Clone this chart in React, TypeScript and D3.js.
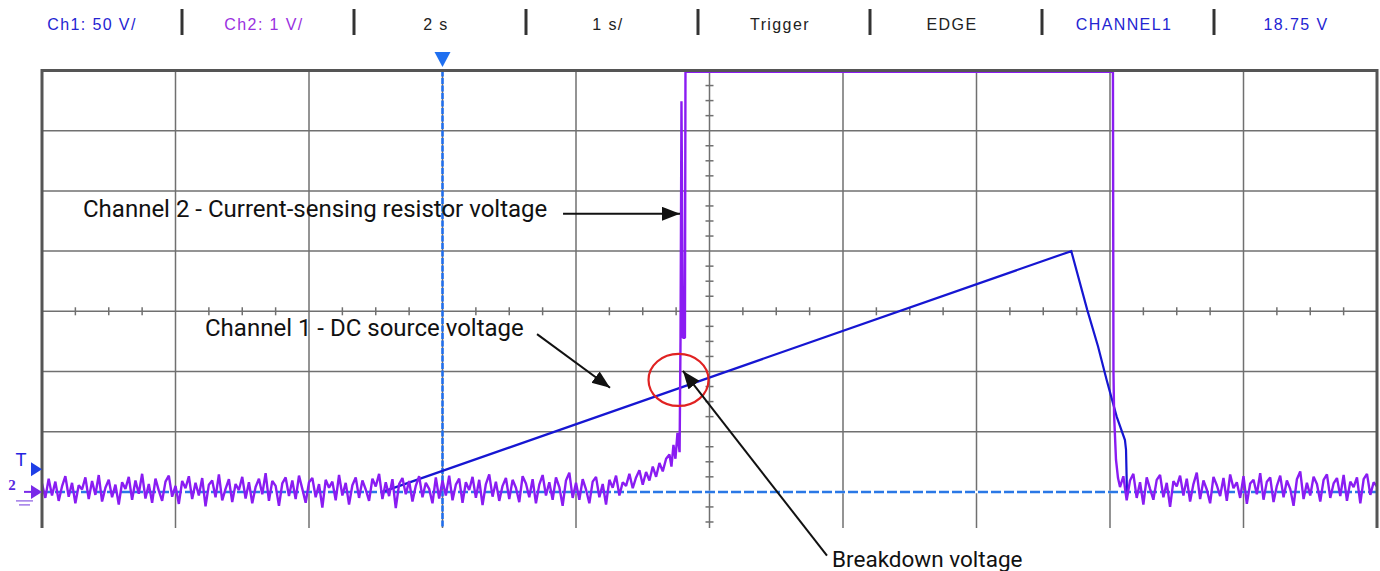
import * as d3 from "d3";

const W = 1380;
const H = 571;

// header strip of the scope
const headerLabels = ["Ch1: 50 V/", "Ch2: 1 V/", "2 s", "1 s/", "Trigger", "EDGE", "CHANNEL1", "18.75 V"];
const headerColors = ["#2424d2", "#9a30e0", "#222", "#222", "#222", "#222", "#2424d2", "#2424d2"];

// Ch1 - DC source voltage (s, V), 50 V/div
const ch1Times = [0, 2.55, 7.71, 7.83, 7.91, 7.975, 8.05, 8.112, 8.12, 8.127, 10];
const ch1Volts = [0, 0, 200, 151, 121, 93, 62.5, 43, 35, 0, 0];

// Ch2 - current-sensing resistor (1 V/div), noise in 1/100 div, one sample every 0.025 s from 0 s
const ch2NoiseBefore = [
  14, -10, 22, -6, 17, -15, 9, 26, -8, 15, -19, 11, 4, 24, -12, 18, -5, 28, -16, 7,
  20, -9, 12, -21, 16, 5, 25, -13, 19, -3, 30, -11, 13, -18, 22, 2, -15, 17, 27, -8,
  10, -20, 18, 6, 26, -12, 15, -6, 23, -24, 12, 19, -9, 29, -14, 5, 21, -17, 13, 3,
  25, -11, 16, -19, 8, 22, -4, 31, -15, 18, 10, -23, 14, 24, -7, 19, -12, 27, 5, -18,
  16, 23, -9, 13, -26, 20, 7, 17, -14, 28, -6, 15, -21, 11, 24, -10, 19, 4, -15, 22,
  9, 30, -12, 16, -7, 21, -27, 13, 23, -4, 18, -16, 10, 26, -9, 15, 5, -19, 24, -11,
  19, -6, 27, -14, 12, 22, -18, 16, 3, 25, -10, 20, -22, 13, 29, -8, 17, -15, 10, 23,
  -12, 20, 7, -17, 26, 14, -9, 21, -19, 12, 28, -6, 16, -13, 24, 8, -23, 19, 32, -10,
  15, -13, 21, 4, -19, 17, 25, -9, 13, -21, 20, 7, 27, -6, 16, 10,
  30, 6, 24, 36, 12, 33, 19, 42, 25, 48, 34, 55,
];
const ch2PulseTimes = [4.7, 4.715, 4.73, 4.745, 4.76, 4.776, 4.783, 4.79, 4.801, 4.816, 4.82, 8.022, 8.026, 8.031, 8.045, 8.06];
const ch2PulseDivs = [0.62, 0.42, 0.78, 0.55, 0.98, 0.66, 2.56, 6.49, 2.56, 2.56, 6.98, 6.98, 1.99, 1.26, 0.53, 0.23];
// noise after the pulse, one sample every 0.025 s from 8.075 s
const ch2NoiseAfter = [
  8, 26, -14, 19, 30, -10, 16, -21, 24, 5, -13, 20, 28, -9, 15, -25, 18, 9, 27, -6,
  22, -16, 13, 32, -12, 19, 4, -19, 25, 11, -7, 23, -15, 29, 6, 16, -10, 26, -20, 14,
  20, -4, 31, -13, 17, 24, -17, 10, 27, -9, 19, 5, -23, 21, 34, -12, 15, -6, 25, 13,
  -16, 20, 29, -10, 14, 23, -7, 28, -15, 17, 8, 24, -19, 21, 30, -5, 16, 9,
];

const triggerTime = 3;
const triggerLevel = 18.75; // V

// annotations in (s, div) of the screen
const annotationLabels = [
  "Channel 2 - Current-sensing resistor voltage",
  "Channel 1 - DC source voltage",
  "Breakdown voltage",
];
const annotationAt = [
  { t: 0.307, d: 4.57, size: 24, from: [3.903, 4.62], to: [4.779, 4.62] },
  { t: 1.221, d: 2.59, size: 24, from: [3.708, 2.62], to: [4.255, 1.73] },
  { t: 5.918, d: -1.25, size: 22.5, from: [5.88, -1.06], to: [4.801, 2.01] },
];

export default function App() {
  const x = d3.scaleLinear().domain([0, 10]).range([42, 1377]);
  const y = d3.scaleLinear().domain([-0.6, 7]).range([528, 70.5]);
  const vToDiv = (v: number) => v / 50;

  const line = d3
    .line<[number, number]>()
    .x((d) => x(d[0]))
    .y((d) => y(d[1]));

  // only the part of Ch1 that leaves ground; the ground itself is the dashed marker line
  const ch1Pts: [number, number][] = ch1Times
    .map((t, i) => [t, vToDiv(ch1Volts[i])] as [number, number])
    .slice(1, ch1Times.length - 1);

  const ch2Pts: [number, number][] = [
    ...ch2NoiseBefore.map((v, i) => [i * 0.025, v / 100] as [number, number]),
    ...ch2PulseTimes.map((t, i) => [t, ch2PulseDivs[i]] as [number, number]),
    ...ch2NoiseAfter.map((v, i) => [8.075 + i * 0.025, v / 100] as [number, number]),
  ];

  const header = d3.scaleBand().domain(headerLabels).range([10, 1386]);

  const xDivs = d3.range(0, 11);
  const yDivs = d3.range(0, 8);
  const yMinor = d3.range(-0.5, 7, 0.25).filter((d) => d % 1 !== 0);
  const xMinor = d3.range(0.25, 10, 0.25).filter((d) => d % 1 !== 0);

  const top = y(7);
  const bottom = y(-0.6);
  const ground = y(0);
  const trigY = y(vToDiv(triggerLevel));

  return (
    <svg
      width={W}
      height={H}
      style={{ position: "absolute", left: 0, top: 0, background: "#fff" }}
    >
      <defs>
        <clipPath id="screen">
          <rect x={x(0)} y={top} width={x(10) - x(0)} height={bottom - top} />
        </clipPath>
        <marker
          id="arrowhead"
          markerUnits="userSpaceOnUse"
          markerWidth={20}
          markerHeight={16}
          refX={18}
          refY={7}
          orient="auto"
        >
          <path d="M0,0 L18,7 L0,14 Z" fill="#111" />
        </marker>
      </defs>

      {/* header */}
      <g fontFamily="'Liberation Sans', Arial, sans-serif" fontSize={16} letterSpacing={1.4}>
        {headerLabels.map((label, i) => (
          <g key={label}>
            {i > 0 && (
              <line
                x1={header(label)}
                x2={header(label)}
                y1={9}
                y2={35}
                stroke="#333"
                strokeWidth={3}
              />
            )}
            <text
              x={(header(label) ?? 0) + header.bandwidth() / 2 - 4}
              y={30}
              textAnchor="middle"
              fill={headerColors[i]}
            >
              {label}
            </text>
          </g>
        ))}
      </g>

      {/* grid */}
      <g stroke="#707070" strokeWidth={1.5}>
        {xDivs.slice(1, -1).map((t) => (
          <line key={"v" + t} x1={x(t)} x2={x(t)} y1={top} y2={bottom} />
        ))}
        {yDivs.map((d) => (
          <line key={"h" + d} x1={x(0)} x2={x(10)} y1={y(d)} y2={y(d)} />
        ))}
        {yMinor.map((d) => (
          <line key={"ym" + d} x1={x(5) - 4} x2={x(5) + 4} y1={y(d)} y2={y(d)} />
        ))}
        {xMinor.map((t) => (
          <line key={"xm" + t} x1={x(t)} x2={x(t)} y1={y(3) - 4} y2={y(3) + 4} />
        ))}
      </g>

      <g clipPath="url(#screen)">
        {/* ground level of the channels */}
        <line x1={x(0)} x2={x(10)} y1={ground} y2={ground} stroke="#fff" strokeWidth={2.5} />
        <line
          x1={x(0)}
          x2={x(10)}
          y1={ground}
          y2={ground}
          stroke="#2a78e6"
          strokeWidth={2.5}
          strokeDasharray="10 3"
        />
        {/* trigger position */}
        <line
          x1={x(triggerTime)}
          x2={x(triggerTime)}
          y1={top}
          y2={bottom}
          stroke="#1f6ff0"
          strokeWidth={2.5}
          strokeDasharray="6 1.5"
        />
        <path d={line(ch1Pts) ?? ""} fill="none" stroke="#1616d2" strokeWidth={2.2} />
        <path
          d={line(ch2Pts) ?? ""}
          fill="none"
          stroke="#8a1cf2"
          strokeWidth={2.4}
          strokeLinejoin="bevel"
        />
      </g>

      {/* border */}
      <path
        d={`M${x(0)},${bottom} L${x(0)},${top} L${x(10)},${top} L${x(10)},${bottom}`}
        fill="none"
        stroke="#555"
        strokeWidth={3}
      />

      {/* trigger position marker */}
      <path
        d={`M${x(triggerTime) - 8},52 L${x(triggerTime) + 8},52 L${x(triggerTime)},67 Z`}
        fill="#1f6ff0"
      />

      {/* left side markers */}
      <g fontFamily="'Liberation Sans', Arial, sans-serif">
        <text x={21} y={trigY - 3} textAnchor="middle" fontSize={18} fill="#2424e0">
          T
        </text>
        <path d={`M31,${trigY - 7} L42,${trigY} L31,${trigY + 7} Z`} fill="#1f3fe6" />
        <text
          x={12}
          y={ground - 2}
          textAnchor="middle"
          fontSize={15}
          fontWeight="bold"
          fontFamily="'Liberation Serif', serif"
          fill="#5a2ae0"
        >
          2
        </text>
        <line x1={24} x2={33} y1={ground} y2={ground} stroke="#7a2ae8" strokeWidth={2} />
        <path d={`M31,${ground - 7} L42,${ground} L31,${ground + 7} Z`} fill="#7a2ae8" />
        <line x1={16} x2={33} y1={ground + 9} y2={ground + 9} stroke="#a07ae8" strokeWidth={1.5} />
        <line x1={19} x2={30} y1={ground + 13} y2={ground + 13} stroke="#a07ae8" strokeWidth={1.5} />
      </g>

      {/* breakdown circle */}
      <ellipse
        cx={x(4.768)}
        cy={y(1.86)}
        rx={30}
        ry={26}
        fill="none"
        stroke="#e02222"
        strokeWidth={2.2}
      />

      {/* annotations */}
      <g fontFamily="Roboto, 'Noto Sans', sans-serif" fill="#111">
        {annotationLabels.map((label, i) => {
          const a = annotationAt[i];
          return (
            <g key={label}>
              <line
                x1={x(a.from[0])}
                y1={y(a.from[1])}
                x2={x(a.to[0])}
                y2={y(a.to[1])}
                stroke="#111"
                strokeWidth={2}
                markerEnd="url(#arrowhead)"
              />
              <text x={x(a.t)} y={y(a.d)} fontSize={a.size}>
                {label}
              </text>
            </g>
          );
        })}
      </g>
    </svg>
  );
}
